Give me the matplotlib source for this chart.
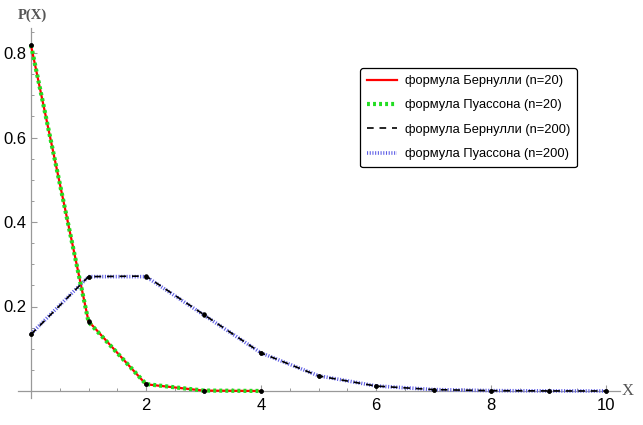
import matplotlib.pyplot as plt
from matplotlib.ticker import FixedLocator

# значения вероятностей, p = 0.01
x20 = [0, 1, 2, 3, 4]
bern20 = [0.8179, 0.1652, 0.0159, 0.00096, 0.00004]
pois20 = [0.8187, 0.1637, 0.0164, 0.0011, 0.00005]

x200 = [0, 1, 2, 3, 4, 5, 6, 7, 8, 9, 10]
bern200 = [0.1340, 0.2707, 0.2720, 0.1814, 0.0902, 0.0357, 0.0117, 0.0033, 0.0008, 0.00017, 0.00003]
pois200 = [0.1353, 0.2707, 0.2707, 0.1804, 0.0902, 0.0361, 0.0120, 0.0034, 0.0009, 0.0002, 0.00004]

labels = ['формула Бернулли (n=20)', 'формула Пуассона (n=20)',
          'формула Бернулли (n=200)', 'формула Пуассона (n=200)']

plt.rcParams['font.family'] = ['Liberation Sans', 'DejaVu Sans']

fig = plt.figure(figsize=(6.43, 4.25), dpi=100)
ax = fig.add_axes([0, 0, 1, 1])
ax.set_xlim(-31 / 57.5, (643 - 31) / 57.5)
ax.set_ylim(-34 / 422.5, (425 - 34) / 422.5)

ax.plot(x20, bern20, color='red', lw=1.6, label=labels[0], zorder=3)
ax.plot(x20, pois20, color='#22dd22', lw=3, ls=(0, (0.7, 0.75)),
        dash_capstyle='butt', label=labels[1], zorder=4)
ax.plot(x200, pois200, color='#5c5ce6', lw=2.6, ls=(0, (0.3, 0.45)),
        dash_capstyle='butt', label=labels[3], zorder=3)
ax.plot(x200, bern200, color='black', lw=1.2, ls=(0, (4, 3.5)),
        label=labels[2], zorder=4)

# точки
for xs, ys in [(x20, bern20), (x20, pois20), (x200, bern200), (x200, pois200)]:
    ax.plot(xs, ys, 'o', color='black', ms=2.2, zorder=5)

# оси как в Mathematica
for s in ['top', 'right']:
    ax.spines[s].set_visible(False)
ax.spines['left'].set_position(('data', 0))
ax.spines['bottom'].set_position(('data', 0))
ax.spines['left'].set_bounds(-0.017, 0.86)
ax.spines['bottom'].set_bounds(-0.23, 10.24)
for s in ['left', 'bottom']:
    ax.spines[s].set_color('#999999')
    ax.spines[s].set_linewidth(0.9)

ax.set_xticks([2, 4, 6, 8, 10])
ax.set_yticks([0.2, 0.4, 0.6, 0.8])
ax.set_yticklabels(['0.2', '0.4', '0.6', '0.8'])
ax.xaxis.set_minor_locator(FixedLocator([i * 0.5 for i in range(1, 21)]))
ax.yaxis.set_minor_locator(FixedLocator([i * 0.05 for i in range(1, 18)]))
ax.tick_params(which='major', direction='in', length=4, color='#999999',
               labelsize=12, labelcolor='black', width=0.8)
ax.tick_params(which='minor', direction='in', length=2, color='#999999', width=0.7)
ax.tick_params(axis='x', which='both', pad=5)
ax.tick_params(axis='y', which='both', pad=3)

ax.text(32, 425 - 15, 'P(X)', transform=None, ha='center', va='center',
        family='Liberation Serif', fontweight='bold', fontsize=10.5, color='#555555')
ax.text(628, 425 - 391, 'X', transform=None, ha='center', va='center',
        family='Liberation Serif', fontsize=12, color='#555555')

handles, labs = ax.get_legend_handles_labels()
order = [0, 1, 3, 2]
leg = ax.legend([handles[i] for i in order], [labs[i] for i in order],
                loc='upper left', bbox_to_anchor=(360 / 643, 1 - 68 / 425),
                fontsize=9.3, frameon=True, fancybox=True, edgecolor='black',
                handlelength=2.3, handletextpad=0.6, borderpad=0.55,
                labelspacing=0.95, borderaxespad=0)
leg.get_frame().set_linewidth(0.9)
leg.get_frame().set_alpha(1)

fig.savefig('out.png', dpi=100)
